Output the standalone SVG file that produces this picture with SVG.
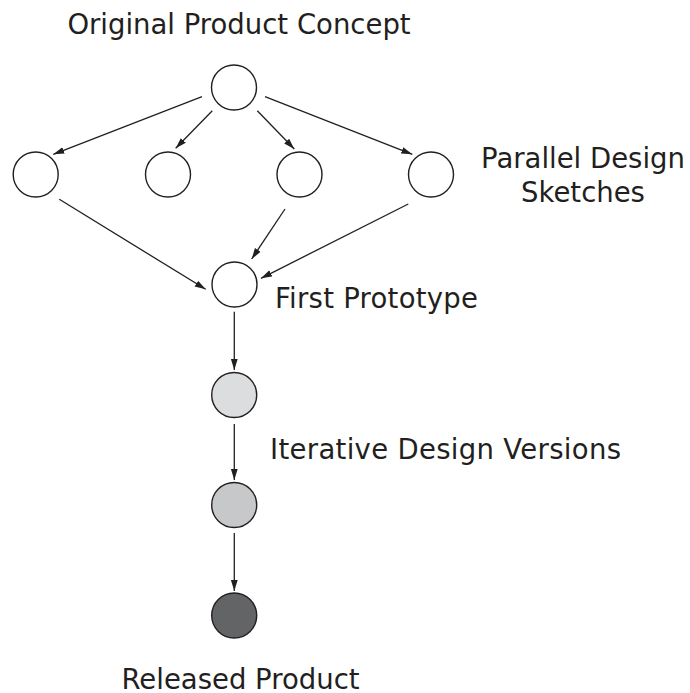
<svg xmlns="http://www.w3.org/2000/svg" width="690" height="693" viewBox="0 0 690 693">
<defs>
<marker id="ah" markerUnits="userSpaceOnUse" markerWidth="12" markerHeight="8" refX="11" refY="4" orient="auto">
<path d="M0,0.6 L11,4 L0,7.4 z" fill="#231f20"/>
</marker>
<style>
.n{stroke:#231f20;stroke-width:1.4;fill:#fff}
.c line{stroke:#231f20;stroke-width:1.3;marker-end:url(#ah)}
text{font-family:"DejaVu Sans",Verdana,sans-serif;font-size:27.5px;fill:#231f20}
</style>
</defs>
<rect width="690" height="693" fill="#fff"/>
<g class="c" id="connectors">
<line x1="202" y1="96.7" x2="53.3" y2="154.3"/>
<line x1="212.3" y1="110.7" x2="175.7" y2="148.3"/>
<line x1="257.3" y1="110.7" x2="294.3" y2="149"/>
<line x1="265" y1="96.7" x2="412.3" y2="154.3"/>
<line x1="59.3" y1="199.3" x2="205.7" y2="289.3"/>
<line x1="285" y1="209" x2="251.7" y2="259"/>
<line x1="408.3" y1="204" x2="261" y2="278.3"/>
<line x1="234.3" y1="311.7" x2="234.3" y2="370"/>
<line x1="234.3" y1="424" x2="234.3" y2="480"/>
<line x1="234.3" y1="533" x2="234.3" y2="591"/>
</g>
<g id="concept"><circle class="n" cx="234" cy="87.5" r="22.5"/><text x="239" y="34" text-anchor="middle">Original Product Concept</text></g>
<g id="sketch1"><circle class="n" cx="35.7" cy="174.5" r="22.5"/></g>
<g id="sketch2"><circle class="n" cx="168" cy="174.5" r="22.5"/></g>
<g id="sketch3"><circle class="n" cx="299.5" cy="174.5" r="22.5"/></g>
<g id="sketch4"><circle class="n" cx="431" cy="174.5" r="22.5"/></g>
<g id="sketches-label"><text x="583" y="168.3" text-anchor="middle">Parallel Design</text><text x="583" y="201.5" text-anchor="middle">Sketches</text></g>
<g id="prototype"><circle class="n" cx="234.5" cy="284.5" r="22.5"/><text x="275" y="307.7" textLength="203" lengthAdjust="spacing">First Prototype</text></g>
<g id="version1"><circle class="n" cx="234.2" cy="395" r="22.5" style="fill:#dcddde"/></g>
<g id="versions-label"><text x="270" y="459.3" textLength="351" lengthAdjust="spacing">Iterative Design Versions</text></g>
<g id="version2"><circle class="n" cx="234.2" cy="505" r="22.5" style="fill:#c7c8ca"/></g>
<g id="released"><circle class="n" cx="234.2" cy="615.5" r="22.5" style="fill:#636466"/><text x="240.5" y="688.5" text-anchor="middle">Released Product</text></g>
</svg>
